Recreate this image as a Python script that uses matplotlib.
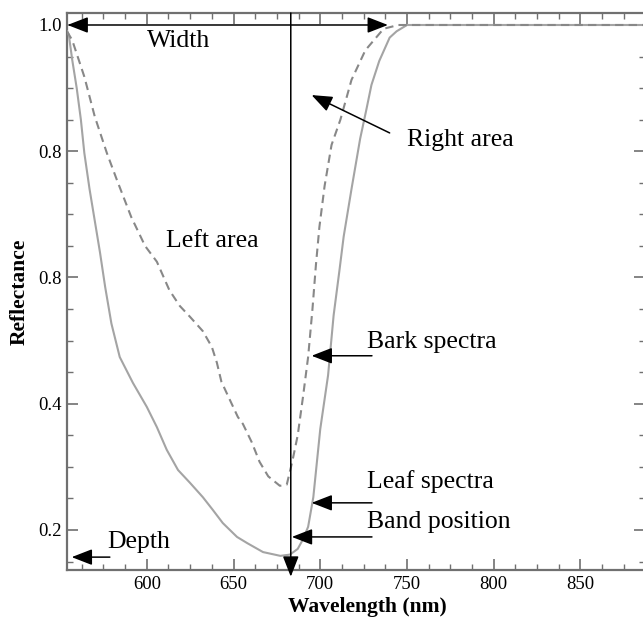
import matplotlib
matplotlib.use("Agg")
import matplotlib.pyplot as plt
import matplotlib.ticker as ticker

# leaf and bark reflectance after continuum removal
leaf_wl = [554, 555, 557, 559.6, 562, 564, 567, 570, 573, 576, 579.6, 584.4, 592,
           600, 605.8, 611.5, 618, 624.8, 632.3, 638, 643.8, 652, 658, 667, 677,
           682.5, 687, 690, 693, 696, 700, 704.5, 707.7, 711, 713.5, 718, 723,
           726.5, 729.5, 734, 740, 744, 750, 900]
leaf_refl = [0.99, 0.985, 0.945, 0.90, 0.85, 0.797, 0.74, 0.69, 0.64, 0.585, 0.527, 0.474, 0.433,
             0.395, 0.363, 0.327, 0.295, 0.275, 0.252, 0.232, 0.211, 0.189, 0.179, 0.165, 0.159,
             0.161, 0.170, 0.185, 0.205, 0.252, 0.36, 0.445, 0.54, 0.61, 0.665, 0.74, 0.82,
             0.865, 0.905, 0.943, 0.98, 0.99, 1.0, 1.0]

bark_wl = [554, 557, 564, 570, 577, 582.7, 591, 599, 605.8, 613, 619, 624.8, 632.3,
           637.5, 640.4, 643, 647.9, 652.5, 655.4, 660.5, 665, 670, 676.7, 680.7, 684,
           687, 690, 693, 695.5, 697.5, 699.5, 702.5, 706.5, 711.6, 718, 726, 736.5,
           745, 900]
bark_refl = [0.99, 0.976, 0.918, 0.855, 0.797, 0.755, 0.696, 0.65, 0.625, 0.58, 0.555, 0.538, 0.515,
             0.49, 0.465, 0.435, 0.406, 0.379, 0.368, 0.339, 0.308, 0.285, 0.27, 0.272, 0.31,
             0.35, 0.41, 0.474, 0.55, 0.62, 0.68, 0.745, 0.81, 0.85, 0.913, 0.96, 0.994,
             1.0, 1.0]

band_pos = 683
width_end = 739

y_ticks = [0.2, 0.4, 0.6, 0.8, 1.0]
y_labels = ["0.2", "0.4", "0.8", "0.8", "1.0"]
x_ticks = [600, 650, 700, 750, 800, 850]

plt.rcParams["font.family"] = ["Liberation Serif", "DejaVu Serif"]

fig = plt.figure(figsize=(6.43, 6.19), dpi=100)
ax = fig.add_axes([67 / 643, 49 / 619, 578 / 643, 557 / 619])

ax.plot(leaf_wl, leaf_refl, color="#a4a4a4", lw=1.5, zorder=3,
        solid_joinstyle="round")
ax.plot(bark_wl, bark_refl, color="#888888", lw=1.5, linestyle=(0, (4, 2.5)), zorder=3)

ax.set_xlim(554, 887.2)
ax.set_ylim(0.1366, 1.019)

ax.set_xticks(x_ticks)
ax.xaxis.set_minor_locator(ticker.MultipleLocator(12.5))
ax.set_yticks(y_ticks)
ax.set_yticklabels(y_labels)
ax.yaxis.set_minor_locator(ticker.MultipleLocator(0.05))

spine_col = "#707070"
for s in ax.spines.values():
    s.set_color(spine_col)
    s.set_linewidth(1.6)
ax.tick_params(which="both", direction="in", top=True, right=True,
               color=spine_col, labelsize=13.5, pad=4)
ax.tick_params(which="major", length=8, width=1.2)
ax.tick_params(which="minor", length=4, width=1.0)

ax.set_xlabel("Wavelength (nm)", fontsize=15.5, fontweight="bold", labelpad=4)
ax.set_ylabel("Reflectance", fontsize=15.5, fontweight="bold", labelpad=6)
ax.xaxis.set_label_coords(0.519, -0.048)

head = dict(color="black", lw=1.1, shrinkA=0, shrinkB=0, mutation_scale=14)
style = "-|>,head_length=0.9,head_width=0.35"
fs = 18.5

# width of the absorption feature
ax.annotate("", xy=(554.3, 1.0), xytext=(width_end, 1.0),
            arrowprops=dict(arrowstyle="<|-|>,head_length=0.9,head_width=0.35", **head),
            annotation_clip=False)
ax.text(600, 0.975, "Width", fontsize=fs, ha="left", va="center")

# band position marker
ax.annotate("", xy=(band_pos, 0.126), xytext=(band_pos, 1.019),
            arrowprops=dict(arrowstyle=style, **head), annotation_clip=False)

ax.text(750, 0.818, "Right area", fontsize=fs, ha="left", va="center")
ax.annotate("", xy=(695, 0.889), xytext=(740, 0.829),
            arrowprops=dict(arrowstyle=style, **head))
ax.text(637.5, 0.658, "Left area", fontsize=fs, ha="center", va="center")

for label, ty, ay, x_head in [("Bark spectra", 0.498, 0.476, 695),
                              ("Leaf spectra", 0.276, 0.243, 695),
                              ("Band position", 0.213, 0.189, 683.6)]:
    ax.text(726.9, ty, label, fontsize=fs, ha="left", va="center")
    ax.annotate("", xy=(x_head, ay), xytext=(729.8, ay),
                arrowprops=dict(arrowstyle=style, **head))

ax.text(577, 0.181, "Depth", fontsize=fs, ha="left", va="center")
ax.annotate("", xy=(556.7, 0.157), xytext=(578.7, 0.157),
            arrowprops=dict(arrowstyle=style, **head))

fig.savefig("out.png", dpi=100)
